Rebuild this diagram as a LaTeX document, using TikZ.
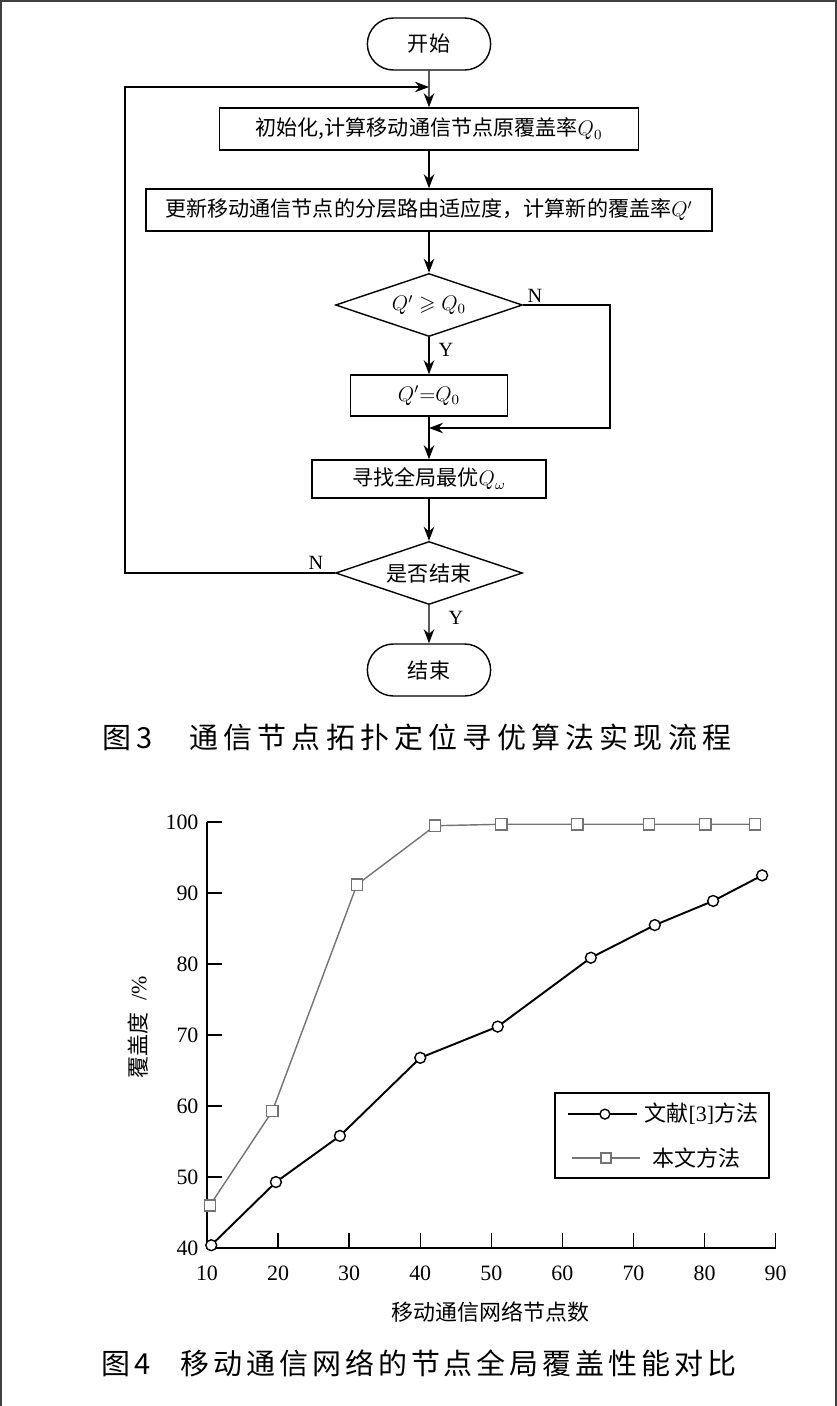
\documentclass[tikz,border=0pt]{standalone}
\usepackage{amssymb}
\usepackage{fontspec}
\setmainfont{Liberation Serif}
\newfontfamily\cjk{Noto Sans CJK SC}
\newfontfamily\capfonta[LetterSpace=18]{Noto Sans CJK SC}
\newfontfamily\capfontb[LetterSpace=13.5]{Noto Sans CJK SC}
\usepackage{xcolor}
\usepackage{tikz}
\usetikzlibrary{shapes}
\usetikzlibrary{shapes.geometric}
\usetikzlibrary{shapes.misc}
\usetikzlibrary{arrows.meta}
\usetikzlibrary{plotmarks}
\definecolor{seriesgray}{RGB}{115,115,115}
\begin{document}
\begin{tikzpicture}[
	x=0.02cm, y=-0.02cm,
	thick,
	font=\fontsize{12.5}{15}\selectfont
]
\tikzset{
    flowbox/.style = {rectangle, draw=black, align=center, inner sep=0pt, minimum height=0.84cm, font=\cjk\fontsize{12}{14}\selectfont},
    termbox/.style = {rounded rectangle, draw=black, minimum width=2.7cm, minimum height=1.04cm, font=\cjk\fontsize{12}{14}\selectfont},
    testbox/.style = {diamond, draw=black, aspect=3, inner sep=0pt, minimum width=3.74cm, minimum height=1.26cm, font=\cjk\fontsize{12}{14}\selectfont},
    flowarrow/.style = {-{Stealth[length=8pt,width=6pt]}},
    yesno/.style = {inner sep=0pt, font=\fontsize{11.5}{13}\selectfont},
    captext/.style = {inner sep=0pt, font=\fontsize{16.5}{19}\selectfont},
    charttext/.style = {inner sep=0pt, font=\cjk\fontsize{12.5}{15}\selectfont},
}
\useasboundingbox (0,0) rectangle (837,1406);
\draw[line width=0.85pt, black!75] (1,1406) -- (1,1) -- (836,1) -- (836,1406);

\node[termbox] (start) at (429,44) {开始};
\node[flowbox, minimum width=8.38cm] (init) at (429,129) {初始化,计算移动通信节点原覆盖率$Q_0$};
\node[flowbox, minimum width=11.32cm] (update) at (429,210) {更新移动通信节点的分层路由适应度，计算新的覆盖率$Q'$};
\node[testbox] (check) at (429,305) {$Q'\geqslant Q_0$};
\node[flowbox, minimum width=3.14cm, minimum height=0.82cm] (assign) at (429,395.5) {$Q'{=}Q_0$};
\node[flowbox, minimum width=4.68cm, minimum height=0.76cm] (best) at (429,479) {寻找全局最优$Q_\omega$};
\node[testbox] (done) at (429,573) {是否结束};
\node[termbox] (stop) at (429,670) {结束};

\coordinate (joinA) at (429,87);
\coordinate (joinB) at (429,428);
\coordinate (loopL) at (125,87);
\coordinate (loopR) at (610,428);

\draw[flowarrow] (start) -- (init);
\draw[flowarrow] (init) -- (update);
\draw[flowarrow] (update) -- (check);
\draw[flowarrow] (check) -- (assign);
\draw[flowarrow] (assign) -- (best);
\draw[flowarrow] (best) -- (done);
\draw[flowarrow] (done) -- (stop);
\draw[flowarrow] (done.west) -| (loopL) -- (joinA);
\draw[flowarrow] (check.east) -| (loopR) -- (joinB);

\node[yesno] (checkN) at (535,296) {N};
\node[yesno] (checkY) at (446,350) {Y};
\node[yesno] (doneN) at (316,563) {N};
\node[yesno] (doneY) at (456,618) {Y};

\node[captext] (capA) at (417,737) {\capfonta 图3\hspace{1.25em}通信节点拓扑定位寻优算法实现流程};

\begin{scope}[shift={(135.9,1532)}, x=0.1422cm, y=0.142cm]
\draw[thick] (10,100) -- (10,40) -- (90,40);
\foreach \v in {50,60,...,100} \draw[thick] (10,\v) -- ++(2.1,0);
\foreach \v in {20,30,...,90} \draw[thick] (\v,40) -- ++(0,2.1);
\foreach \v in {40,50,...,100} \node[anchor=east, inner sep=0pt] (ylab\v) at (8.9,\v) {\v};
\foreach \v in {10,20,...,90} \node[inner sep=0pt] (xlab\v) at (\v,36.4) {\v};
\node[charttext] (xtitle) at (49.9,31.0) {移动通信网络节点数};
\node[charttext, rotate=90] (ytitle) at (0.3,71.1) {覆盖度\hspace{0.55em}\textrm{/\%}};

\draw[seriesgray, line width=0.8pt, mark=square*, mark size=3.2pt, mark options={fill=white}]
  plot coordinates {(10.4,46.0) (19.2,59.3) (31.1,91.2) (42.1,99.5) (51.4,99.7) (62.1,99.7) (72.2,99.7) (80.1,99.7) (87.1,99.7)};
\draw[black, line width=1.1pt, mark=*, mark size=3.1pt, mark options={fill=white, line width=0.8pt}]
  plot coordinates {(10.6,40.4) (19.7,49.3) (28.7,55.8) (40.0,66.8) (50.9,71.2) (64.0,80.9) (73.0,85.5) (81.2,88.9) (88.1,92.5)};

\draw[thick] (58.95,49.86) rectangle (89.04,61.83);
\draw[black, line width=1.1pt] (60.77,58.87) -- (70.48,58.87);
\draw[black, line width=0.8pt, fill=white] (65.98,58.87) circle (2.8pt);
\draw[seriesgray, line width=0.8pt] (61.33,52.68) -- (70.9,52.68);
\draw[seriesgray, line width=0.8pt, fill=white] (66.12,52.68) +(-2.8pt,-2.8pt) rectangle +(2.8pt,2.8pt);
\node[anchor=west, inner sep=0pt] (legA) at (71.46,58.87) {{\cjk 文献}[3]{\cjk 方法}};
\node[charttext, anchor=west] (legB) at (72.59,52.68) {本文方法};
\end{scope}

\node[captext] (capB) at (419,1363) {\capfontb 图4\hspace{1.03em}移动通信网络的节点全局覆盖性能对比};
\end{tikzpicture}
\end{document}
